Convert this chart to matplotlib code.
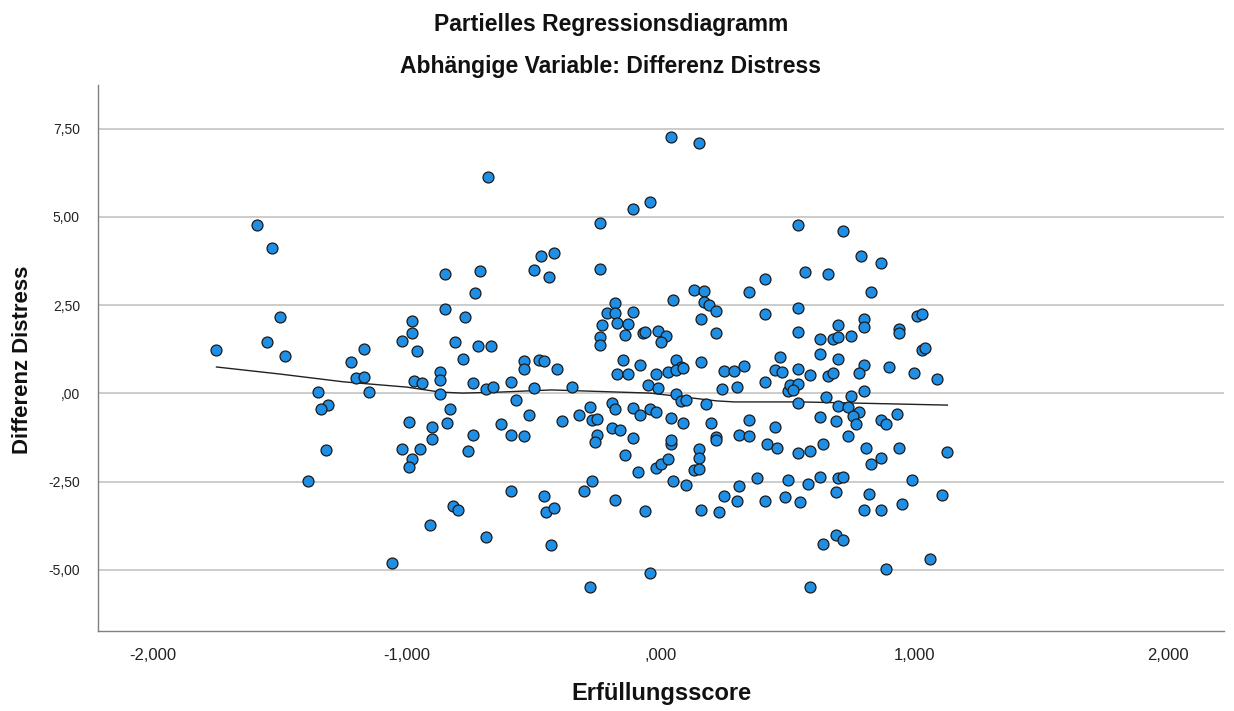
import matplotlib
matplotlib.use("Agg")
import matplotlib.pyplot as plt
import numpy as np

plt.rcParams['font.family'] = ['Liberation Sans', 'DejaVu Sans']

# Scatter data (Erfüllungsscore residual, Differenz Distress residual)
x_vals = [
    -0.68, -1.59, -1.53, -0.85, -0.71, -0.73, -0.85, -0.77, -1.50, -0.98,
    -0.98, -1.02, -1.55, -0.81, -0.72, -0.67, -0.96, -1.17, -1.75, -1.48,
    -0.78, -1.22, -1.20, -1.17, -0.87, -0.87, -0.97, -0.94, -0.74, -0.69,
    -0.66, -1.35, -1.15, -0.87, -1.31, -1.34, -0.83, -0.99, -0.90, -0.84,
    -0.63, -0.90, -0.74, -1.02, -0.95, -0.76, -1.32, -0.98, -0.99, -1.39,
    -0.82, -0.80, -0.91, -0.69, -1.06,
    0.04, 0.15, -0.11, -0.04, -0.24, 0.54, -0.47, -0.42, -0.50, -0.44,
    -0.24, 0.41, 0.35, 0.13, 0.17, 0.05, 0.17, 0.19, 0.22, 0.41,
    0.54, 0.16, 0.22, 0.54, -0.18, -0.21, -0.18, -0.11, -0.23, -0.17,
    -0.13, -0.14, -0.24, -0.24, -0.07, -0.06, -0.01, 0.02, 0.00, -0.54,
    -0.54, -0.48, -0.46, -0.41, -0.15, -0.08, 0.06, 0.08, 0.16, 0.33,
    0.47, 0.25, 0.29, 0.45, 0.48, 0.54,
    -0.59, -0.57, -0.50, -0.35, -0.52, -0.59, -0.54, -0.39, -0.32, -0.28,
    -0.27, -0.25, -0.25, -0.26, -0.19, -0.18, -0.19, -0.16, -0.11, -0.14,
    -0.11, -0.08, -0.04, -0.02, -0.09, -0.02, 0.00, 0.03, 0.04, 0.04,
    0.04, 0.09, 0.05, 0.10, -0.05, -0.01, -0.02, -0.17, -0.13, 0.03,
    0.06, 0.09, 0.06, 0.08, 0.10, 0.18, 0.20, 0.22, 0.22, 0.15,
    0.15, 0.13, 0.15, 0.16, 0.23, 0.25, 0.30, 0.31, 0.38, 0.41,
    0.49, 0.50, 0.55, 0.24, 0.30, 0.35, 0.31, 0.35, 0.42, 0.46,
    0.45, 0.54, 0.54, 0.41, 0.50, 0.51, 0.54, 0.52, -0.59, -0.46,
    -0.45, -0.42, -0.30, -0.27, -0.18, -0.06, -0.43, -0.04, -0.28,
    0.72, 0.79, 0.87, 0.57, 0.66, 0.83, 1.01, 1.03, 0.70, 0.80,
    0.80, 0.94, 0.94, 0.63, 0.68, 0.70, 0.75, 0.63, 0.70, 1.03,
    1.04, 0.90, 0.80, 0.78, 0.59, 0.66, 0.68, 1.00, 1.09, 0.80,
    0.75, 0.65, 0.70, 0.74, 0.78, 0.76, 0.77, 0.63, 0.69, 0.87,
    0.89, 0.93, 0.59, 0.64, 0.74, 0.81, 0.87, 0.83, 0.94, 1.13,
    0.58, 0.63, 0.70, 0.72, 0.69, 0.82, 0.99, 1.11, 0.80, 0.87,
    0.95, 0.69, 0.72, 0.64, 1.06, 0.89, 0.59,
]
y_vals = [
    6.14, 4.78, 4.12, 3.39, 3.47, 2.84, 2.40, 2.17, 2.17, 2.06,
    1.71, 1.49, 1.46, 1.46, 1.35, 1.35, 1.20, 1.26, 1.23, 1.06,
    0.98, 0.89, 0.44, 0.47, 0.61, 0.38, 0.36, 0.30, 0.30, 0.13,
    0.18, 0.04, 0.04, -0.01, -0.33, -0.44, -0.44, -0.81, -0.95, -0.84,
    -0.86, -1.29, -1.18, -1.57, -1.57, -1.63, -1.60, -1.86, -2.08, -2.48,
    -3.19, -3.30, -3.73, -4.07, -4.80,
    7.27, 7.10, 5.23, 5.43, 4.83, 4.78, 3.90, 3.97, 3.50, 3.30,
    3.53, 3.25, 2.87, 2.93, 2.91, 2.65, 2.59, 2.51, 2.34, 2.25,
    2.42, 2.11, 1.71, 1.74, 2.56, 2.28, 2.28, 2.31, 1.94, 2.00,
    1.97, 1.66, 1.60, 1.37, 1.71, 1.74, 1.77, 1.63, 1.46, 0.92,
    0.69, 0.95, 0.92, 0.69, 0.95, 0.81, 0.95, 0.75, 0.89, 0.78,
    1.03, 0.64, 0.64, 0.67, 0.61, 0.69,
    0.33, -0.18, 0.16, 0.18, -0.61, -1.18, -1.21, -0.78, -0.61, -0.38,
    -0.75, -0.72, -1.18, -1.37, -0.27, -0.44, -0.98, -1.03, -1.26, -1.74,
    -0.41, -0.61, -0.44, -0.52, -2.22, -2.11, -2.00, -1.86, -1.43, -1.32,
    -0.70, -0.84, -2.48, -2.59, 0.24, 0.16, 0.55, 0.55, 0.55, 0.61,
    0.66, 0.72, -0.01, -0.21, -0.18, -0.30, -0.84, -1.23, -1.32, -1.57,
    -1.83, -2.17, -2.14, -3.30, -3.36, -2.91, -3.05, -2.62, -2.40, -3.05,
    -2.93, -2.45, -3.08, 0.13, 0.18, -0.75, -1.18, -1.21, -1.43, -1.54,
    -0.95, -1.69, -0.27, 0.33, 0.07, 0.24, 0.27, 0.10, -2.76, -2.91,
    -3.36, -3.24, -2.76, -2.48, -3.02, -3.33, -4.29, -5.09, -5.48,
    4.61, 3.90, 3.70, 3.44, 3.39, 2.87, 2.20, 2.25, 1.94, 2.11,
    1.88, 1.83, 1.71, 1.54, 1.54, 1.60, 1.63, 1.12, 0.98, 1.23,
    1.29, 0.75, 0.81, 0.58, 0.52, 0.50, 0.58, 0.58, 0.41, 0.07,
    -0.07, -0.10, -0.35, -0.38, -0.52, -0.64, -0.86, -0.67, -0.78, -0.75,
    -0.86, -0.58, -1.63, -1.43, -1.21, -1.54, -1.83, -2.00, -1.54, -1.66,
    -2.57, -2.37, -2.40, -2.37, -2.79, -2.85, -2.45, -2.88, -3.30, -3.30,
    -3.13, -4.01, -4.15, -4.27, -4.69, -4.97, -5.48,
]

# Loess fit line
fit_x = [-1.75, -1.50, -1.25, -1.00, -0.87, -0.78, -0.63, -0.43, -0.30,
         -0.04, 0.09, 0.22, 0.29, 0.55, 0.75, 1.13]
fit_y = [0.75, 0.55, 0.33, 0.18, 0.04, 0.01, 0.04, 0.10, 0.07,
         0.01, -0.10, -0.21, -0.24, -0.24, -0.27, -0.33]

x_ticks = [-2, -1, 0, 1, 2]
x_ticklabels = ['-2,000', '-1,000', ',000', '1,000', '2,000']
y_ticks = [-5, -2.5, 0, 2.5, 5, 7.5]
y_ticklabels = ['-5,00', '-2,50', ',00', '2,50', '5,00', '7,50']

title = 'Partielles Regressionsdiagramm'
subtitle = 'Abhängige Variable: Differenz Distress'
xlabel = 'Erfüllungsscore'
ylabel = 'Differenz Distress'

fig = plt.figure(figsize=(12.34, 7.11), dpi=100)
ax = fig.add_axes([0.0794, 0.1125, 0.9125, 0.768])

ax.set_xlim(-2.217, 2.22)
ax.set_ylim(-6.73, 8.74)

for yt in y_ticks:
    ax.axhline(yt, color='#c8c8c8', lw=1.3, zorder=0)

ax.plot(fit_x, fit_y, color='#222222', lw=1.0, zorder=2)
ax.scatter(x_vals, y_vals, s=62, c='#1f8fe5', edgecolors='#1a1a1a',
           linewidths=0.9, zorder=3)

for s in ['top', 'right']:
    ax.spines[s].set_visible(False)
for s in ['left', 'bottom']:
    ax.spines[s].set_color('#808080')
    ax.spines[s].set_linewidth(1.0)

ax.set_xticks(x_ticks)
ax.set_xticklabels(x_ticklabels, fontsize=12)
ax.set_yticks(y_ticks)
ax.set_yticklabels(y_ticklabels, fontsize=10)
ax.tick_params(axis='both', length=0, colors='#222222')
ax.tick_params(axis='x', pad=12)
ax.tick_params(axis='y', pad=13)

fig.text(0.495, 0.966, title, ha='center', va='center', fontsize=16.5,
         fontweight='bold', color='#111111')
fig.text(0.495, 0.907, subtitle, ha='center', va='center', fontsize=16.5,
         fontweight='bold', color='#111111')
fig.text(0.536, 0.025, xlabel, ha='center', va='center', fontsize=17,
         fontweight='bold', color='#111111')
fig.text(0.018, 0.494, ylabel, ha='center', va='center', fontsize=16,
         fontweight='bold', rotation=90, color='#111111')

fig.savefig('out.png', dpi=100)
